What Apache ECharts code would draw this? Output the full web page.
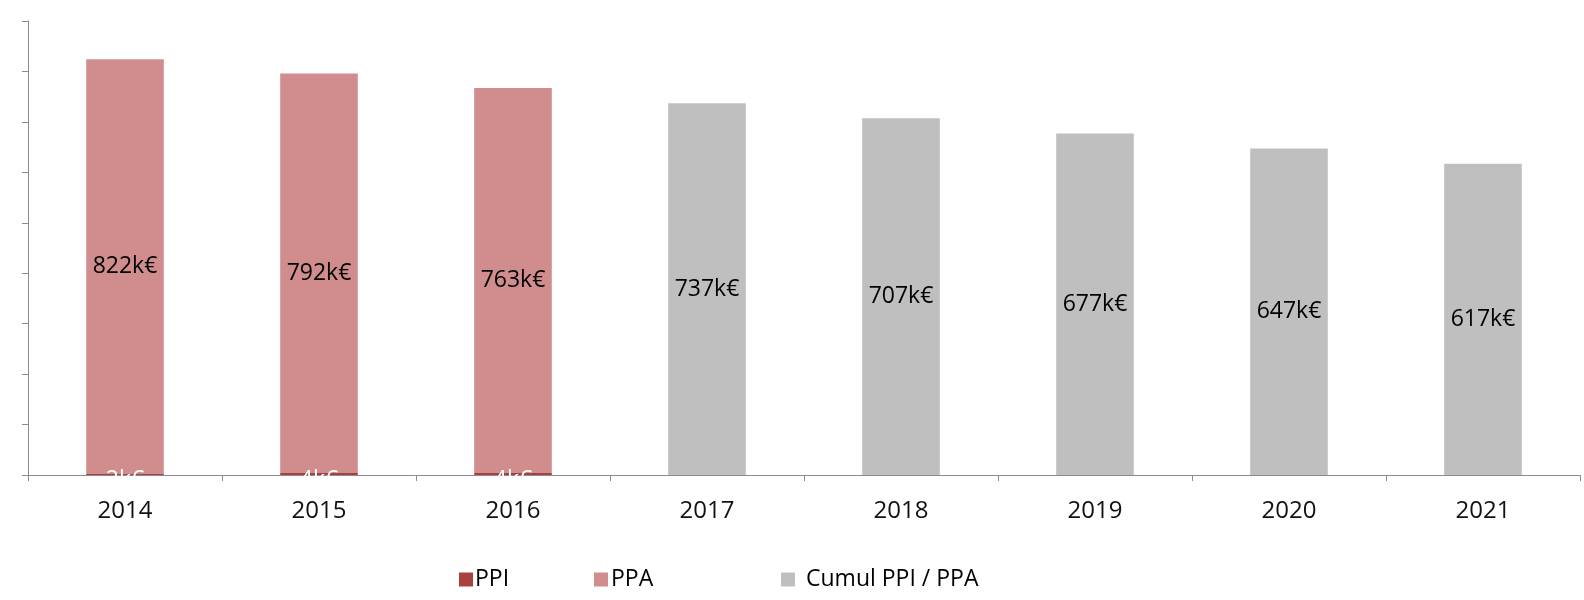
<!DOCTYPE html>
<html>
<head>
<meta charset="utf-8">
<script src="https://cdn.jsdelivr.net/npm/echarts@6/dist/echarts.min.js"></script>
<style>
html, body { margin: 0; padding: 0; background: #fff; }
#main { width: 1584px; height: 600px; }
</style>
</head>
<body>
<div id="main"></div>
<script>
// données du graphique
var years = ['2014', '2015', '2016', '2017', '2018', '2019', '2020', '2021'];
var ppi = [2, 4, 4, null, null, null, null, null];
var ppa = [822, 792, 763, null, null, null, null, null];
var cumul = [null, null, null, 737, 707, 677, 647, 617];

var fontName = '"Open Sans", "Liberation Sans", sans-serif';

function labelK(p) {
	return p.value == null ? '' : p.value + 'k€';
}

var myChart = echarts.init(document.getElementById('main'));
var option = {
	animation: false,
	backgroundColor: '#fff',
	textStyle: { fontFamily: fontName },
	grid: { left: 28, right: 4, top: 21, bottom: 125 },
	legend: [
		{ data: ['PPI'], left: 454, top: 563, itemWidth: 14, itemHeight: 14, itemGap: 4,
			icon: 'rect', textStyle: { fontFamily: fontName, fontSize: 23, color: '#000', padding: [0, 0, 0, -3] } },
		{ data: ['PPA'], left: 589, top: 563, itemWidth: 14, itemHeight: 14,
			icon: 'rect', textStyle: { fontFamily: fontName, fontSize: 23, color: '#000', padding: [0, 0, 0, -2] } },
		{ data: ['Cumul PPI / PPA'], left: 776, top: 563, itemWidth: 14, itemHeight: 14,
			icon: 'rect', textStyle: { fontFamily: fontName, fontSize: 23, color: '#000', padding: [0, 0, 0, 6] } }
	],
	xAxis: {
		type: 'category',
		data: years,
		axisLine: { lineStyle: { color: '#8c8c8c', width: 1 } },
		axisTick: { show: true, length: 6, inside: false, lineStyle: { color: '#8c8c8c' } },
		axisLabel: { fontFamily: fontName, fontSize: 24, color: '#111', margin: 24 }
	},
	yAxis: {
		type: 'value',
		min: 0,
		max: 900,
		interval: 100,
		axisLine: { show: true, lineStyle: { color: '#8c8c8c', width: 1 } },
		axisTick: { show: true, length: 6, lineStyle: { color: '#8c8c8c' } },
		axisLabel: { show: false },
		splitLine: { show: false }
	},
	series: [
		{
			name: 'PPI', type: 'bar', stack: 'total', barWidth: '40%',
			data: ppi,
			itemStyle: { color: '#a8403f' },
			label: { show: true, position: 'inside', formatter: labelK, offset: [0, 6],
				fontFamily: fontName, fontSize: 23, color: '#fff' }
		},
		{
			name: 'PPA', type: 'bar', stack: 'total', barWidth: '40%',
			data: ppa,
			itemStyle: { color: '#d18d8d' },
			label: { show: true, position: 'inside', formatter: labelK,
				fontFamily: fontName, fontSize: 23, color: '#000' }
		},
		{
			name: 'Cumul PPI / PPA', type: 'bar', stack: 'total', barWidth: '40%',
			data: cumul,
			itemStyle: { color: '#bfbfbf' },
			label: { show: true, position: 'inside', formatter: labelK,
				fontFamily: fontName, fontSize: 23, color: '#000' }
		}
	]
};
myChart.setOption(option);
</script>
</body>
</html>
